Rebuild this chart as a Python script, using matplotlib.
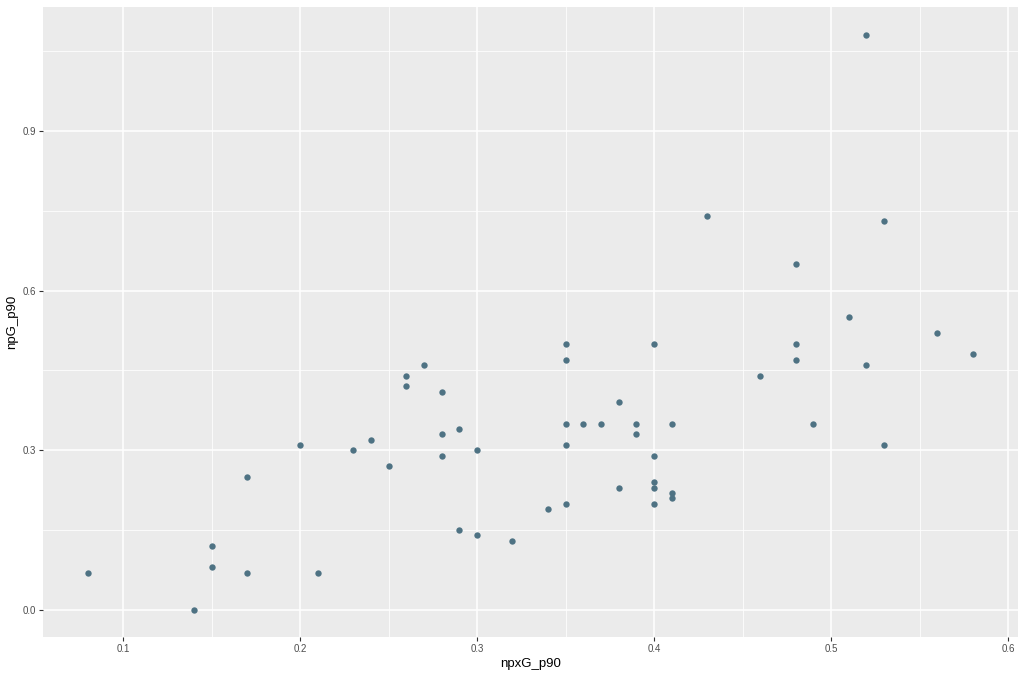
import matplotlib
matplotlib.use("Agg")
import matplotlib.pyplot as plt

plt.rcParams['font.family'] = ['Liberation Sans', 'DejaVu Sans']

npxG_p90 = [0.08, 0.14, 0.15, 0.15, 0.17, 0.17, 0.20, 0.21, 0.23, 0.24,
            0.25, 0.26, 0.26, 0.27, 0.28, 0.28, 0.28, 0.29, 0.29, 0.30,
            0.30, 0.32, 0.34, 0.35, 0.35, 0.35, 0.35, 0.35, 0.36, 0.37,
            0.38, 0.38, 0.39, 0.39, 0.40, 0.40, 0.40, 0.40, 0.40, 0.41,
            0.41, 0.41, 0.43, 0.46, 0.48, 0.48, 0.48, 0.49, 0.51, 0.52,
            0.52, 0.53, 0.53, 0.56, 0.58]
npG_p90 = [0.07, 0.00, 0.12, 0.08, 0.25, 0.07, 0.31, 0.07, 0.30, 0.32,
           0.27, 0.44, 0.42, 0.46, 0.41, 0.33, 0.29, 0.34, 0.15, 0.30,
           0.14, 0.13, 0.19, 0.50, 0.47, 0.35, 0.31, 0.20, 0.35, 0.35,
           0.39, 0.23, 0.35, 0.33, 0.50, 0.29, 0.24, 0.23, 0.20, 0.35,
           0.22, 0.21, 0.74, 0.44, 0.65, 0.50, 0.47, 0.35, 0.55, 1.08,
           0.46, 0.73, 0.31, 0.52, 0.48]

x_ticks = [0.1, 0.2, 0.3, 0.4, 0.5, 0.6]
y_ticks = [0.0, 0.3, 0.6, 0.9]

fig = plt.figure(figsize=(10.24, 6.74), dpi=100)
ax = fig.add_axes([43/1024, 1 - 637/674, (1018-43)/1024, (637-7)/674])
ax.set_facecolor("#EBEBEB")
for s in ax.spines.values():
    s.set_visible(False)

ax.set_xlim(0.0548, 0.6056)
ax.set_ylim(-0.0507, 1.1327)

ax.set_xticks(x_ticks)
ax.set_xticklabels([f"{v:.1f}" for v in x_ticks])
ax.set_yticks(y_ticks)
ax.set_yticklabels([f"{v:.1f}" for v in y_ticks])
ax.set_xticks([0.15, 0.25, 0.35, 0.45, 0.55], minor=True)
ax.set_yticks([0.15, 0.45, 0.75, 1.05], minor=True)

ax.grid(which="major", color="white", linewidth=1.1)
ax.grid(which="minor", color="white", linewidth=0.55)
ax.set_axisbelow(True)
ax.tick_params(which="major", length=3, color="#333333", width=0.8,
               labelsize=7, labelcolor="#4D4D4D", pad=2)
ax.tick_params(which="minor", length=0)

ax.scatter(npxG_p90, npG_p90, s=21, color="#4E7283", linewidths=0, zorder=3)

ax.set_xlabel("npxG_p90", fontsize=9.5, color="black", labelpad=3)
ax.set_ylabel("npG_p90", fontsize=9.5, color="black", labelpad=3)

fig.savefig("out.png", dpi=100)
